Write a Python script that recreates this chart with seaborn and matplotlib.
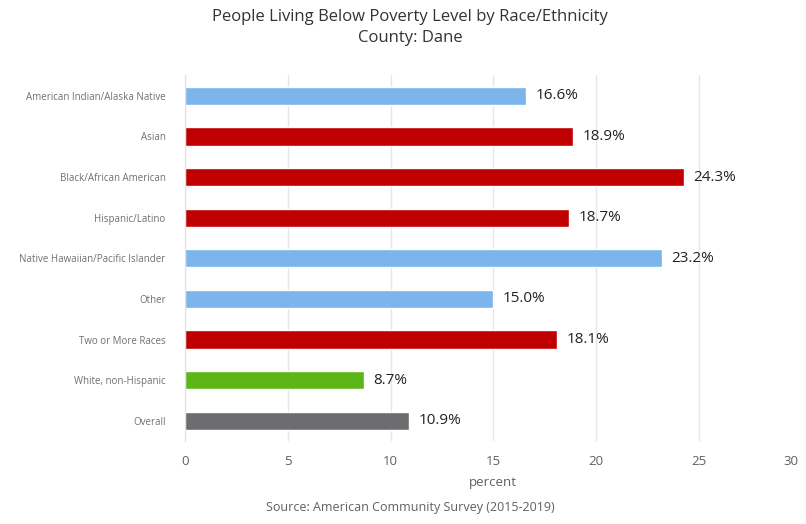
import numpy as np
import pandas as pd
import matplotlib
matplotlib.use("Agg")
import matplotlib.pyplot as plt
import seaborn as sns

categories = [
    "American Indian/Alaska Native",
    "Asian",
    "Black/African American",
    "Hispanic/Latino",
    "Native Hawaiian/Pacific Islander",
    "Other",
    "Two or More Races",
    "White, non-Hispanic",
    "Overall",
]
values = [16.6, 18.9, 24.3, 18.7, 23.2, 15.0, 18.1, 8.7, 10.9]
bar_colors = ["#7cb5ec", "#c00000", "#c00000", "#c00000", "#7cb5ec",
              "#7cb5ec", "#c00000", "#5cb618", "#6d6d6f"]
x_ticks = [0, 5, 10, 15, 20, 25, 30]

sns.set_style("white")
plt.rcParams["font.family"] = ["Open Sans", "DejaVu Sans"]

df = pd.DataFrame({"group": categories, "percent": values})

fig = plt.figure(figsize=(8.06, 5.24), dpi=100)
ax = fig.add_axes([0.2295, 0.158, 0.765, 0.698])

sns.barplot(data=df, x="percent", y="group", hue="group", palette=bar_colors,
            legend=False, width=0.45, ax=ax, saturation=1)

for i, v in enumerate(values):
    ax.text(v + 0.45, i, f"{v:.1f}%", va="center", ha="left", fontsize=11, color="#222222")

ax.set_xlim(0, 30)
ax.set_xticks(x_ticks)
# last label is pushed inside the figure, so draw it separately
tick_text = [str(t) for t in x_ticks]
ax.set_xticklabels(tick_text[:-1] + [""], fontsize=9.5, color="#606060")
ax.annotate(tick_text[-1], xy=(x_ticks[-1], 0), xycoords=("data", "axes fraction"),
            xytext=(-8, -10), textcoords="offset points", ha="center", va="top",
            fontsize=9.5, color="#606060")
ax.tick_params(axis="x", length=0, pad=10)
ax.tick_params(axis="y", length=0, pad=14, labelsize=7, labelcolor="#707070")
ax.xaxis.grid(True, color="#e6e6e6", lw=1)
ax.set_axisbelow(True)
for s in ["top", "right", "bottom"]:
    ax.spines[s].set_visible(False)
ax.spines["left"].set_color("#e0e0e0")
ax.set_ylabel("")
ax.set_xlabel("percent", fontsize=9.5, color="#606060", labelpad=6)

fig.text(0.509, 0.967, "People Living Below Poverty Level by Race/Ethnicity",
         ha="center", va="center", fontsize=12, color="#333333")
fig.text(0.509, 0.927, "County: Dane", ha="center", va="center", fontsize=12, color="#333333")
fig.text(0.509, 0.032, "Source: American Community Survey (2015-2019)",
         ha="center", va="center", fontsize=9, color="#606060")

fig.savefig("out.png", dpi=100)
